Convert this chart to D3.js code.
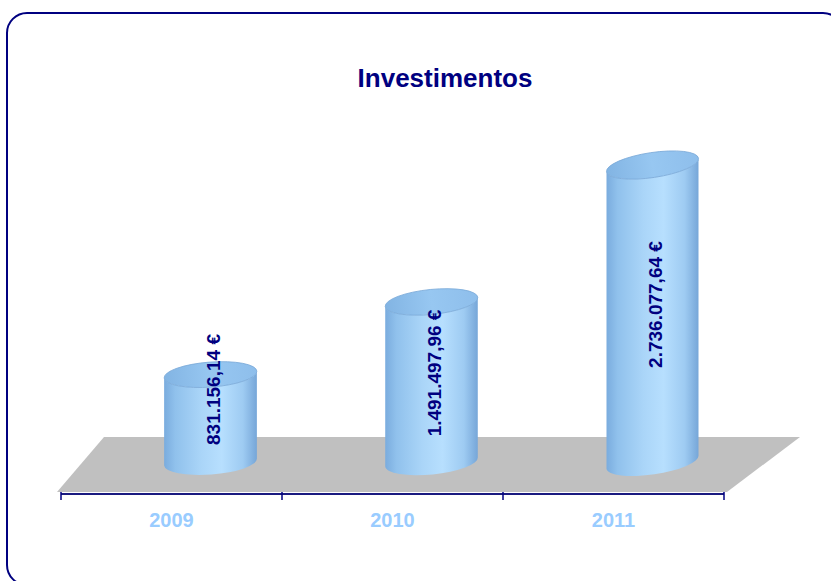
<!DOCTYPE html>
<html>
<head>
<meta charset="utf-8">
<script src="https://cdn.jsdelivr.net/npm/d3@7"></script>
<style>
  html, body { margin: 0; padding: 0; background: #ffffff; }
  svg { display: block; font-family: Arial, "Liberation Sans", sans-serif; }
</style>
</head>
<body>
<svg id="chart" width="831" height="581"></svg>
<script>
// Annual investment totals (euros)
const years = ["2009", "2010", "2011"];
const investments = [831156.14, 1491497.96, 2736077.64];
const chartTitle = "Investimentos";

const svg = d3.select("#chart");

// Portuguese number formatting: 1.491.497,96 €
const pt = d3.formatLocale({ decimal: ",", thousands: ".", grouping: [3], currency: ["", " €"] });
const fmt = pt.format("$,.2f");

// Frame with rounded corners (extends past the visible page on right/bottom)
svg.append("rect")
  .attr("x", 7).attr("y", 13)
  .attr("width", 836).attr("height", 572)
  .attr("rx", 20).attr("ry", 20)
  .attr("fill", "#ffffff")
  .attr("stroke", "#000080")
  .attr("stroke-width", 2);

// Title
svg.append("text")
  .attr("x", 445).attr("y", 87)
  .attr("text-anchor", "middle")
  .attr("font-size", 26).attr("font-weight", "bold")
  .attr("fill", "#000080")
  .text(chartTitle);

// Scales
const x = d3.scaleBand().domain(years).range([61, 724]).padding(0);
const y = d3.scaleLinear().domain([0, 3000000]).range([466, 136]);

const axisY = 494;
const x0 = x.range()[0], x1 = x.range()[1];

// Floor (oblique 3D base plane)
const floor = [
  [x0 - 4, axisY - 2],
  [x1 + 3, axisY - 2],
  [x1 + 76, 437],
  [x0 + 43, 437]
];
svg.append("polygon")
  .attr("points", floor.map(p => p.join(",")).join(" "))
  .attr("fill", "#c0c0c0");

// Gradients for the cylinders
const defs = svg.append("defs");
const bodyGrad = defs.append("linearGradient").attr("id", "cylBody")
  .attr("x1", "0%").attr("x2", "100%").attr("y1", "0%").attr("y2", "0%");
[[0, "#7aacde"], [0.12, "#90c1ec"], [0.4, "#aad5f8"], [0.62, "#b7dffe"], [0.85, "#9ecbf2"], [1, "#76a6d8"]]
  .forEach(([o, c]) => bodyGrad.append("stop").attr("offset", o).attr("stop-color", c));
const topGrad = defs.append("linearGradient").attr("id", "cylTop")
  .attr("x1", "0%").attr("x2", "100%").attr("y1", "0%").attr("y2", "0%");
[[0, "#82b4e3"], [0.5, "#97c7f1"], [1, "#8ebeeb"]]
  .forEach(([o, c]) => topGrad.append("stop").attr("offset", o).attr("stop-color", c));

// Cylinders
const depthDx = 39;      // cylinder offset into the floor plane
const rx = 46.5, ry = 12.5;
const baseY = y(0) - 4;

const bars = years.map((yr, i) => {
  const cx = x(yr) + x.bandwidth() / 2 + depthDx;
  const topY = y(investments[i]);
  const tilt = -2.5 - (baseY - topY) * 0.02;   // perspective lean of the ellipses
  return { yr, v: investments[i], cx, topY, tilt };
});

const g = svg.append("g");
bars.forEach(b => {
  const t = b.tilt * Math.PI / 180;
  const dx = rx * Math.cos(t), dy = rx * Math.sin(t);
  const TL = [b.cx - dx, b.topY - dy], TR = [b.cx + dx, b.topY + dy];
  const BL = [b.cx - dx, baseY - dy], BR = [b.cx + dx, baseY + dy];
  const body = `M${TL} L${BL} A${rx},${ry} ${b.tilt} 0 0 ${BR} L${TR} A${rx},${ry} ${b.tilt} 0 1 ${TL} Z`;
  g.append("path").attr("d", body).attr("fill", "url(#cylBody)");
  g.append("ellipse")
    .attr("cx", 0).attr("cy", 0).attr("rx", rx).attr("ry", ry)
    .attr("transform", `translate(${b.cx},${b.topY}) rotate(${b.tilt})`)
    .attr("fill", "url(#cylTop)")
    .attr("stroke", "#7aa9d8").attr("stroke-width", 0.8);
});

// Value labels, written vertically inside each cylinder
bars.forEach(b => {
  const t = svg.append("text")
    .attr("text-anchor", "middle")
    .attr("dominant-baseline", "central")
    .attr("font-size", 19).attr("font-weight", "bold")
    .attr("fill", "#000080")
    .text(fmt(b.v));
  const half = t.node().getComputedTextLength() / 2;
  const cy = Math.min((b.topY + baseY) / 2 - 9, baseY - 17 - half);
  t.attr("transform", `translate(${b.cx + 3},${cy}) rotate(-90)`);
});

// Category axis: line with ticks at category boundaries, labels centred
const axis = svg.append("g").attr("transform", `translate(0,${axisY})`);
axis.append("line")
  .attr("x1", x0).attr("x2", x1)
  .attr("stroke", "#1a1a80").attr("stroke-width", 2);
const bounds = years.map(d => x(d)).concat([x1]);
axis.selectAll("line.tick").data(bounds).join("line")
  .attr("class", "tick")
  .attr("x1", d => d).attr("x2", d => d)
  .attr("y1", -2).attr("y2", 6)
  .attr("stroke", "#000080").attr("stroke-width", 1.5);

const labelAxis = d3.axisBottom(x).tickSize(0).tickPadding(0);
const la = svg.append("g").attr("transform", `translate(0,${axisY})`).call(labelAxis);
la.select(".domain").remove();
la.selectAll("text")
  .attr("y", 33).attr("dy", 0)
  .attr("font-family", "Arial, 'Liberation Sans', sans-serif")
  .attr("font-size", 20).attr("font-weight", "bold")
  .attr("fill", "#99ccff");
</script>
</body>
</html>
